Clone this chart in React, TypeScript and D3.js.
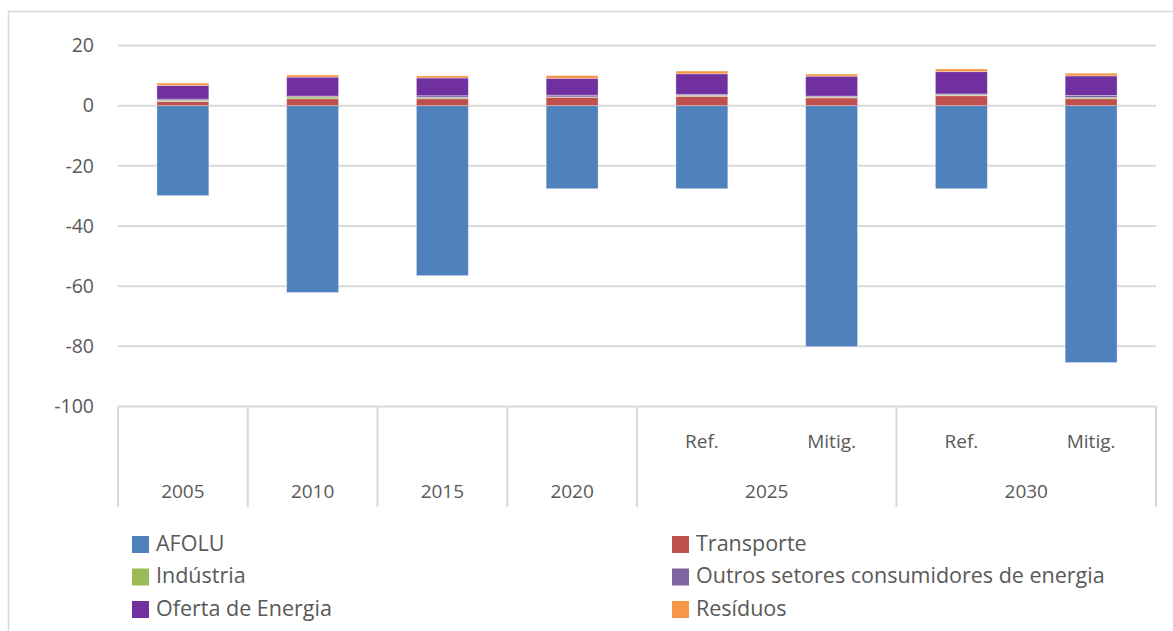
import React from "react";
import * as d3 from "d3";

const categories = ["2005", "2010", "2015", "2020", "2025 Ref.", "2025 Mitig.", "2030 Ref.", "2030 Mitig."];
const innerLabels = ["", "", "", "", "Ref.", "Mitig.", "Ref.", "Mitig."];
const groups = [
  { label: "2005", from: 0, to: 0 },
  { label: "2010", from: 1, to: 1 },
  { label: "2015", from: 2, to: 2 },
  { label: "2020", from: 3, to: 3 },
  { label: "2025", from: 4, to: 5 },
  { label: "2030", from: 6, to: 7 },
];
const seriesNames = ["AFOLU", "Transporte", "Indústria", "Outros setores consumidores de energia", "Oferta de Energia", "Resíduos"];
const seriesColors = ["#4F81BD", "#C0504D", "#9BBB59", "#8064A2", "#7030A0", "#F79646"];

const afolu = [-29.9, -62.1, -56.5, -27.6, -27.6, -80.1, -27.6, -85.4];
const transporte = [1.4, 2.3, 2.3, 2.8, 3.1, 2.6, 3.3, 2.3];
const industria = [0.4, 0.6, 0.4, 0.1, 0.3, 0.3, 0.3, 0.4];
const outros = [0.4, 0.3, 0.6, 0.6, 0.3, 0.3, 0.3, 0.7];
const oferta = [4.5, 6.3, 5.9, 5.6, 6.9, 6.6, 7.4, 6.5];
const residuos = [0.8, 0.7, 0.7, 0.9, 0.9, 0.7, 0.9, 0.9];
const yTicks = [20, 0, -20, -40, -60, -80, -100];

const W = 1173;
const H = 631;
const FONT = "'Open Sans', 'Noto Sans', sans-serif";
const TXT = "#595959";
const GRID = "#D9D9D9";

export default function App() {
  const seriesValues = [afolu, transporte, industria, outros, oferta, residuos];
  const rows = categories.map((c, i) => {
    const r: any = { cat: c };
    seriesNames.forEach((s, k) => (r[s] = seriesValues[k][i]));
    return r;
  });
  const stacked = d3.stack<any>().keys(seriesNames).offset(d3.stackOffsetDiverging)(rows);

  const x = d3.scaleBand<string>().domain(categories).range([118, 1156]).paddingInner(0.6).paddingOuter(0.3);
  const step = x.step();
  const left = 118;
  const y = d3.scaleLinear().domain([-100, 20]).range([406.5, 45.5]);

  const sepXs = [0, 1, 2, 3, 4, 6, 8].map((i) => left + i * step);
  const axisY = y(-100);

  const legendItems = [
    { k: 0, col: 0, row: 0 },
    { k: 1, col: 1, row: 0 },
    { k: 2, col: 0, row: 1 },
    { k: 3, col: 1, row: 1 },
    { k: 4, col: 0, row: 2 },
    { k: 5, col: 1, row: 2 },
  ];
  const legendColX = [132, 672];
  const legendRowY = [536, 568.5, 601];
  const legendBase = [550.5, 583, 615.5];

  return (
    <svg width={W} height={H} style={{ position: "absolute", left: 0, top: 0, background: "#fff" }} fontFamily={FONT}>
      <rect x={8.5} y={11.5} width={1180} height={640} fill="#fff" stroke="#D9D9D9" strokeWidth={1.5} />
      {yTicks.map((t) => (
        <g key={t}>
          {t !== -100 && <line x1={left} x2={1156} y1={y(t)} y2={y(t)} stroke={GRID} strokeWidth={2} />}
          <text x={94} y={y(t)} dy="0.35em" textAnchor="end" fontSize={19.5} fill={TXT}>
            {t}
          </text>
        </g>
      ))}
      {stacked.map((s, k) => (
        <g key={s.key} fill={seriesColors[k]}>
          {s.map((d, i) => {
            const y0 = y(d[0]);
            const y1 = y(d[1]);
            return (
              <rect
                key={i}
                x={x(categories[i])}
                width={x.bandwidth()}
                y={Math.min(y0, y1)}
                height={Math.abs(y1 - y0)}
                stroke="rgba(255,255,255,0.4)"
                strokeWidth={0.8}
              />
            );
          })}
        </g>
      ))}
      <line x1={left} x2={1156} y1={axisY} y2={axisY} stroke={GRID} strokeWidth={2} />
      {sepXs.map((sx, i) => (
        <line key={i} x1={sx} x2={sx} y1={axisY} y2={507} stroke={GRID} strokeWidth={2} />
      ))}
      {categories.map((c, i) =>
        innerLabels[i] ? (
          <text key={c} x={(x(c) as number) + x.bandwidth() / 2} y={448} textAnchor="middle" fontSize={19} fill={TXT}>
            {innerLabels[i]}
          </text>
        ) : null
      )}
      {groups.map((g) => (
        <text key={g.label} x={left + ((g.from + g.to + 1) / 2) * step} y={498} textAnchor="middle" fontSize={19} fill={TXT}>
          {g.label}
        </text>
      ))}
      {legendItems.map((it) => (
        <g key={it.k}>
          <rect x={legendColX[it.col]} y={legendRowY[it.row]} width={17} height={17} fill={seriesColors[it.k]} />
          <text x={legendColX[it.col] + 24} y={legendBase[it.row]} fontSize={21.5} fill={TXT}>
            {seriesNames[it.k]}
          </text>
        </g>
      ))}
    </svg>
  );
}
